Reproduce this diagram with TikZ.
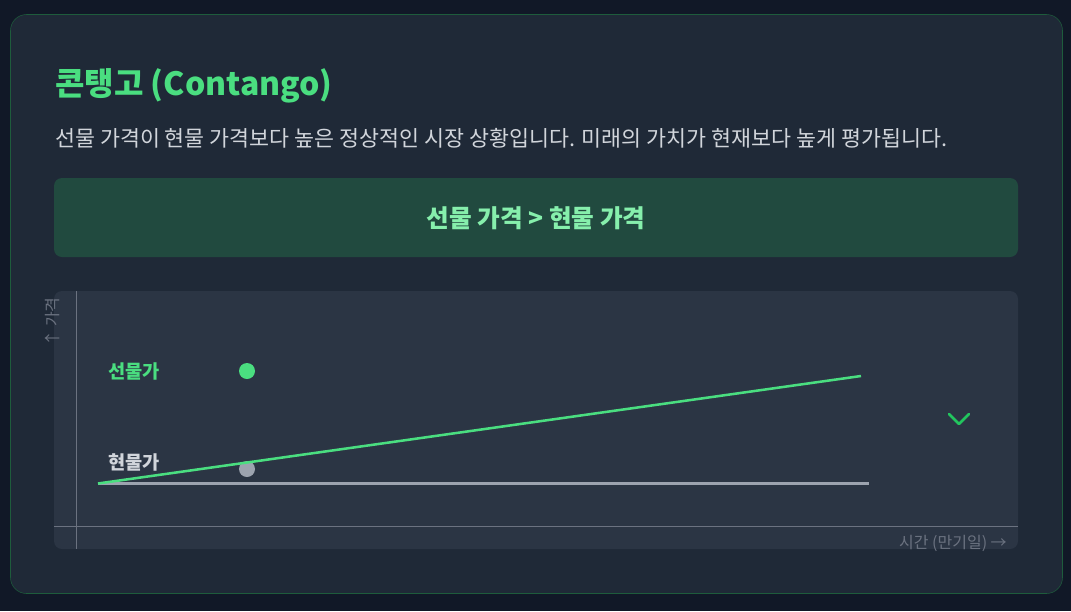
\documentclass[tikz,border=0pt]{standalone}
\usepackage{fontspec}
\setmainfont{Noto Sans CJK KR}
\definecolor{pagebg}{HTML}{111827}
\definecolor{cardbg}{HTML}{1F2937}
\definecolor{cardline}{HTML}{1E5C3C}
\definecolor{kgreen}{HTML}{4ADE80}
\definecolor{klight}{HTML}{86EFAC}
\definecolor{ktext}{HTML}{D1D5DB}
\definecolor{boxbg}{HTML}{214A3F}
\definecolor{chartbg}{HTML}{2B3544}
\definecolor{axisgray}{HTML}{6B7280}
\definecolor{spotgray}{HTML}{9CA3AF}
\definecolor{chev}{HTML}{22C55E}
\begin{document}
\begin{tikzpicture}[x=0.75pt,y=-0.75pt]
\tikzstyle{every node}+=[inner sep=0pt]
\tikzstyle{lbl}=[anchor=west,font=\bfseries\fontsize{14}{16}\selectfont]
\tikzstyle{axlbl}=[text=axisgray,font=\fontsize{12}{14}\selectfont]
\useasboundingbox (0,0) rectangle (1071,611);
\fill [pagebg] (0,0) rectangle (1071,611);

% card
\draw [cardline,fill=cardbg,rounded corners=12pt] (10.5,14.5) rectangle (1062.5,593.5);
\node (title) [anchor=base west,text=kgreen,font=\bfseries\fontsize{24}{28}\selectfont] at (55,95) {콘탱고 (Contango)};
\node (desc) [anchor=base west,text=ktext,font=\fontsize{16.3}{19}\selectfont] at (55,146) {선물 가격이 현물 가격보다 높은 정상적인 시장 상황입니다. 미래의 가치가 현재보다 높게 평가됩니다.};

% banner
\fill [boxbg,rounded corners=6pt] (54,178) rectangle (1018,257);
\node (rule) [text=klight,font=\bfseries\fontsize{18.5}{22}\selectfont] at (536,218) {선물 가격 > 현물 가격};

% chart
\fill [chartbg,rounded corners=6pt] (54,291) rectangle (1018,549);
\draw [axisgray,line width=0.75pt] (76,291) -- (76,549);
\draw [axisgray,line width=0.75pt] (54,526.5) -- (1018,526.5);
\node (yax) [axlbl,rotate=90] at (52,322) {↑ 가격};
\node (xax) [axlbl,anchor=east] at (1007,543) {시간 (만기일) →};

\node (fut) [lbl,text=kgreen] at (108,371) {선물가};
\node (spot) [lbl,text=ktext] at (108,462) {현물가};
\fill [kgreen] (247,371) circle (6pt);
\fill [spotgray] (247,469) circle (6pt);

\coordinate (o) at (98,483.5);
\coordinate (s) at (869,483.5);
\coordinate (f) at (861,376);
\draw [spotgray,line width=2.25pt] (o) -- (s);
\draw [kgreen,line width=1.9pt] (o) -- (f);

\draw [chev,line width=1.9pt,line cap=round,line join=round] (949,414) -- (959,424) -- (969,414);
\end{tikzpicture}
\end{document}
